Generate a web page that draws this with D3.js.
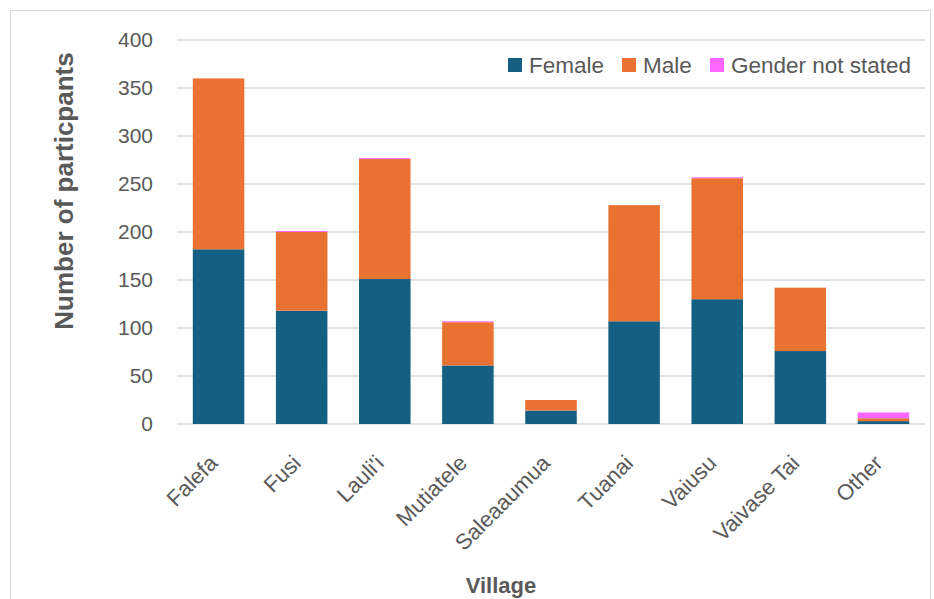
<!DOCTYPE html>
<html>
<head>
<meta charset="utf-8">
<script src="https://d3js.org/d3.v7.min.js"></script>
<style>
  body { margin: 0; background: #fff; }
  svg text { font-family: "Liberation Sans", Arial, sans-serif; fill: #595959; }
</style>
</head>
<body>
<div id="chart"></div>
<script>
// Data
const villages = ["Falefa", "Fusi", "Lauli'i", "Mutiatele", "Saleaaumua", "Tuanai", "Vaiusu", "Vaivase Tai", "Other"];
const female = [182, 118, 151, 61, 14, 107, 130, 76, 3];
const male = [178, 82, 125, 45, 11, 121, 126, 66, 3];
const notStated = [0, 1, 1, 1, 0, 0, 1, 0, 6];
const yTicks = [0, 50, 100, 150, 200, 250, 300, 350, 400];

const seriesNames = ["Female", "Male", "Gender not stated"];
const colors = ["#156082", "#E97132", "#FF66FF"];

const width = 934, height = 599;
const margin = { top: 40, right: 9, bottom: 175, left: 177 };

const svg = d3.select("#chart").append("svg")
    .attr("width", width)
    .attr("height", height);

// chart border
svg.append("rect")
    .attr("x", 10.5).attr("y", 10.5)
    .attr("width", 920).attr("height", 600)
    .attr("fill", "none")
    .attr("stroke", "#d9d9d9");

const x = d3.scaleBand()
    .domain(villages)
    .range([margin.left, width - margin.right])
    .paddingInner(0.38)
    .paddingOuter(0.19);

const y = d3.scaleLinear()
    .domain([0, 400])
    .range([height - margin.bottom, margin.top]);

// gridlines
svg.append("g")
    .selectAll("line")
    .data(yTicks)
    .enter()
    .append("line")
    .attr("x1", margin.left)
    .attr("x2", width - margin.right)
    .attr("y1", d => y(d))
    .attr("y2", d => y(d))
    .attr("stroke", "#d9d9d9")
    .attr("stroke-width", 1.5);

// y tick labels
const yAxis = svg.append("g")
    .attr("transform", `translate(${margin.left},0)`)
    .call(d3.axisLeft(y).tickValues(yTicks).tickSize(0).tickPadding(24));
yAxis.select(".domain").remove();
yAxis.selectAll("text")
    .style("font-size", "21px")
    .style("font-family", "'Liberation Sans', Arial, sans-serif")
    .attr("fill", "#595959");

// stacked data
const rows = villages.map((v, i) => ({
    village: v,
    "Female": female[i],
    "Male": male[i],
    "Gender not stated": notStated[i]
}));
const stacked = d3.stack().keys(seriesNames)(rows);

svg.append("g")
    .selectAll("g")
    .data(stacked)
    .enter()
    .append("g")
    .attr("fill", (d, i) => colors[i])
    .selectAll("rect")
    .data(d => d)
    .enter()
    .append("rect")
    .attr("x", d => x(d.data.village))
    .attr("width", x.bandwidth())
    .attr("y", d => y(d[1]))
    .attr("height", d => y(d[0]) - y(d[1]));

// category labels
const xAxis = svg.append("g")
    .attr("transform", `translate(0,${height - margin.bottom})`)
    .call(d3.axisBottom(x).tickSize(0).tickPadding(0));
xAxis.select(".domain").remove();
xAxis.selectAll("text")
    .style("font-size", "22px")
    .style("font-family", "'Liberation Sans', Arial, sans-serif")
    .attr("fill", "#595959")
    .attr("text-anchor", "end")
    .attr("dy", "0.35em")
    .attr("transform", "translate(-5,35) rotate(-45)");

// axis titles
svg.append("text")
    .attr("transform", `translate(73,191) rotate(-90)`)
    .attr("text-anchor", "middle")
    .style("font-size", "26px")
    .style("font-weight", "bold")
    .text("Number of particpants");

svg.append("text")
    .attr("x", 501)
    .attr("y", 593)
    .attr("text-anchor", "middle")
    .style("font-size", "22px")
    .style("font-weight", "bold")
    .text("Village");

// legend
const legendX = [508, 622, 710];
const legend = svg.append("g");
seriesNames.forEach((name, i) => {
    legend.append("rect")
        .attr("x", legendX[i]).attr("y", 58)
        .attr("width", 14).attr("height", 14)
        .attr("fill", colors[i]);
    legend.append("text")
        .attr("x", legendX[i] + 21)
        .attr("y", 65)
        .attr("dy", "0.35em")
        .style("font-size", "22.5px")
        .text(name);
});
</script>
</body>
</html>
